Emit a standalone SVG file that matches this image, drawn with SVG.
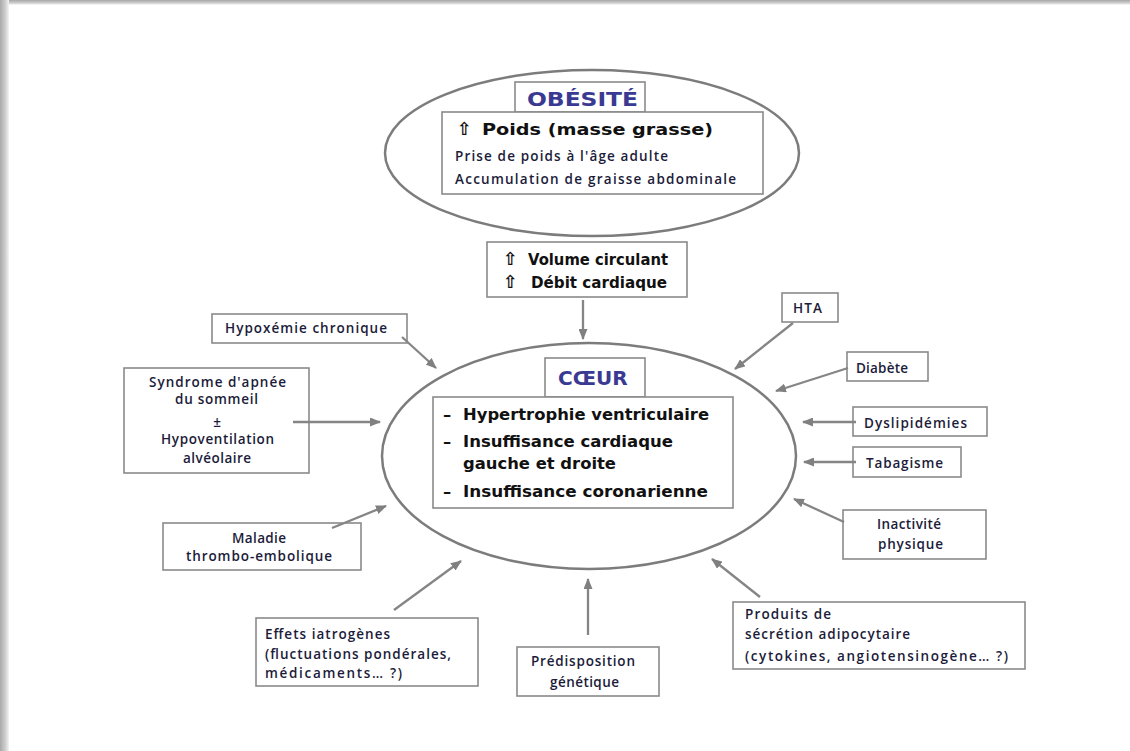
<svg xmlns="http://www.w3.org/2000/svg" width="1130" height="751" viewBox="0 0 1130 751">
<defs>
<linearGradient id="shL" x1="0" y1="0" x2="1" y2="0">
<stop offset="0" stop-color="#a9a9a9"/><stop offset="0.6" stop-color="#cfcfcf"/><stop offset="1" stop-color="#f4f4f4"/>
</linearGradient>
<linearGradient id="shT" x1="0" y1="0" x2="0" y2="1">
<stop offset="0" stop-color="#a6a6a6"/><stop offset="1" stop-color="#e6e6e6"/>
</linearGradient>
<marker id="ah" markerUnits="userSpaceOnUse" markerWidth="11" markerHeight="9" refX="10" refY="4.5" orient="auto">
<path d="M0,0 L11,4.5 L0,9 z" fill="#808080"/>
</marker>
</defs>
<style>
.ell{fill:none;stroke:#7c7c7c;stroke-width:2.5}
.box{fill:#fff;stroke:#8a8a8a;stroke-width:1.6}
.con line{stroke:#858585;stroke-width:2.3;marker-end:url(#ah)}
.sm{font-family:"Open Sans","Liberation Sans",sans-serif;font-weight:600;font-size:13.5px;fill:#1c1c3a}
.big{font-family:"DejaVu Sans","Liberation Sans",sans-serif;font-weight:bold;font-size:16.4px;fill:#111}
.ttl{font-family:"DejaVu Sans","Liberation Sans",sans-serif;font-weight:bold;font-size:20px;fill:#3a3a92}
.sym{font-family:"DejaVu Sans",sans-serif;font-weight:bold;font-size:18px;fill:#111}
</style>
<rect width="1130" height="751" fill="#fff"/>
<rect x="0" y="0" width="1130" height="4.5" fill="url(#shT)"/>
<rect x="0" y="0" width="9" height="751" fill="url(#shL)"/>

<g id="obesite">
<ellipse class="ell" cx="592" cy="153" rx="207" ry="83"/>
<rect class="box" x="515" y="82" width="130" height="30"/>
<text class="ttl" x="527" y="106" font-size="21" textLength="111" lengthAdjust="spacingAndGlyphs">OBÉSITÉ</text>
<rect class="box" x="442" y="112" width="321" height="82"/>
<text class="sym" x="457" y="135">⇧</text>
<text class="big" x="482" y="135" font-size="18" textLength="231" lengthAdjust="spacingAndGlyphs">Poids (masse grasse)</text>
<text class="sm" x="455" y="161" textLength="213" lengthAdjust="spacing">Prise de poids à l'âge adulte</text>
<text class="sm" x="455" y="184" textLength="281" lengthAdjust="spacing">Accumulation de graisse abdominale</text>
</g>

<g id="volume">
<rect class="box" x="487" y="242" width="200" height="55"/>
<text class="sym" x="503" y="265">⇧</text>
<text class="big" x="528" y="265" font-size="16" textLength="140" lengthAdjust="spacingAndGlyphs">Volume circulant</text>
<text class="sym" x="503" y="288">⇧</text>
<text class="big" x="531" y="288" font-size="15.5" textLength="136" lengthAdjust="spacingAndGlyphs">Débit cardiaque</text>
</g>

<g id="coeur">
<ellipse class="ell" cx="589" cy="456" rx="207" ry="113"/>
<rect class="box" x="545" y="358" width="100" height="39"/>
<text class="ttl" x="558" y="385" font-size="20">CŒUR</text>
<rect class="box" x="433" y="397" width="300" height="111"/>
<text class="big" x="443" y="420">–</text>
<text class="big" x="463" y="420" textLength="246" lengthAdjust="spacingAndGlyphs">Hypertrophie ventriculaire</text>
<text class="big" x="443" y="447">–</text>
<text class="big" x="463" y="447" textLength="210" lengthAdjust="spacingAndGlyphs">Insuffisance cardiaque</text>
<text class="big" x="463" y="469" textLength="153" lengthAdjust="spacingAndGlyphs">gauche et droite</text>
<text class="big" x="443" y="497">–</text>
<text class="big" x="463" y="497" textLength="245" lengthAdjust="spacingAndGlyphs">Insuffisance coronarienne</text>
</g>

<g id="hypoxemie">
<rect class="box" x="212" y="314" width="195" height="29"/>
<text class="sm" x="225" y="333" textLength="162" lengthAdjust="spacing">Hypoxémie chronique</text>
</g>

<g id="apnee">
<rect class="box" x="124" y="368" width="185" height="105"/>
<text class="sm" x="149" y="387" textLength="137" lengthAdjust="spacing">Syndrome d'apnée</text>
<text class="sm" x="175" y="404" textLength="83" lengthAdjust="spacing">du sommeil</text>
<text class="sm" x="217" y="427" font-size="16" text-anchor="middle">±</text>
<text class="sm" x="161" y="444" textLength="113" lengthAdjust="spacing">Hypoventilation</text>
<text class="sm" x="183" y="463" textLength="68" lengthAdjust="spacing">alvéolaire</text>
</g>

<g id="maladie">
<rect class="box" x="163" y="523" width="198" height="47"/>
<text class="sm" x="232" y="543" textLength="54" lengthAdjust="spacing">Maladie</text>
<text class="sm" x="186" y="561" textLength="146" lengthAdjust="spacing">thrombo-embolique</text>
</g>

<g id="effets">
<rect class="box" x="256" y="618" width="222" height="68"/>
<text class="sm" x="265" y="639" textLength="125" lengthAdjust="spacing">Effets iatrogènes</text>
<text class="sm" x="265" y="659" textLength="186" lengthAdjust="spacing">(fluctuations pondérales,</text>
<text class="sm" x="265" y="678" textLength="137" lengthAdjust="spacing">médicaments… ?)</text>
</g>

<g id="predisposition">
<rect class="box" x="517" y="647" width="142" height="49"/>
<text class="sm" x="531" y="666" textLength="104" lengthAdjust="spacing">Prédisposition</text>
<text class="sm" x="550" y="687" textLength="69" lengthAdjust="spacing">génétique</text>
</g>

<g id="produits">
<rect class="box" x="733" y="602" width="292" height="67"/>
<text class="sm" x="745" y="619" textLength="86" lengthAdjust="spacing">Produits de</text>
<text class="sm" x="745" y="639" textLength="165" lengthAdjust="spacing">sécrétion adipocytaire</text>
<text class="sm" x="745" y="661" textLength="263" lengthAdjust="spacing">(cytokines, angiotensinogène… ?)</text>
</g>

<g id="hta">
<rect class="box" x="782" y="293" width="56" height="29"/>
<text class="sm" x="793" y="313" textLength="29" lengthAdjust="spacing">HTA</text>
</g>

<g id="diabete">
<rect class="box" x="847" y="352" width="81" height="29"/>
<text class="sm" x="856" y="373" textLength="52" lengthAdjust="spacing">Diabète</text>
</g>

<g id="dyslipidemies">
<rect class="box" x="853" y="407" width="134" height="29"/>
<text class="sm" x="864" y="428" textLength="103" lengthAdjust="spacing">Dyslipidémies</text>
</g>

<g id="tabagisme">
<rect class="box" x="853" y="447" width="108" height="30"/>
<text class="sm" x="866" y="468" textLength="77" lengthAdjust="spacing">Tabagisme</text>
</g>

<g id="inactivite">
<rect class="box" x="843" y="510" width="143" height="49"/>
<text class="sm" x="877" y="529" textLength="64" lengthAdjust="spacing">Inactivité</text>
<text class="sm" x="878" y="549" textLength="65" lengthAdjust="spacing">physique</text>
</g>

<g id="connectors" class="con">
<line x1="583" y1="300" x2="583" y2="339"/>
<line x1="402" y1="337" x2="436" y2="368"/>
<line x1="293" y1="422" x2="380" y2="422"/>
<line x1="332" y1="528" x2="386" y2="506"/>
<line x1="394" y1="610" x2="461" y2="561"/>
<line x1="588" y1="635" x2="588" y2="579"/>
<line x1="760" y1="597" x2="712" y2="559"/>
<line x1="793" y1="323" x2="735" y2="369"/>
<line x1="848" y1="368" x2="776" y2="391"/>
<line x1="856" y1="422" x2="803" y2="422"/>
<line x1="856" y1="462" x2="804" y2="462"/>
<line x1="844" y1="522" x2="794" y2="499"/>
</g>
</svg>
